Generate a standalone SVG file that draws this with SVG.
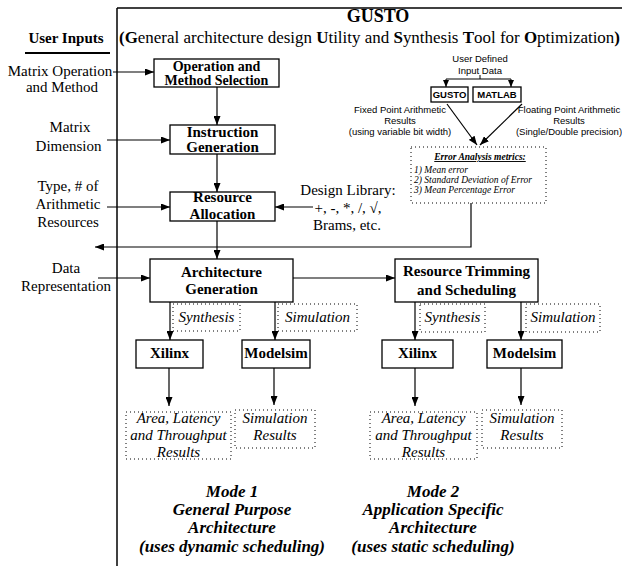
<svg xmlns="http://www.w3.org/2000/svg" width="622" height="566" viewBox="0 0 622 566">
<defs>
<marker id="ah" markerUnits="userSpaceOnUse" markerWidth="9" markerHeight="7" refX="9" refY="3.5" orient="auto">
<path d="M0,0 L9,3.5 L0,7 z" fill="#000"/>
</marker>
<marker id="ahs" markerUnits="userSpaceOnUse" markerWidth="7" markerHeight="6" refX="7" refY="3" orient="auto">
<path d="M0,0 L7,3 L0,6 z" fill="#000"/>
</marker>
<style>
.t{font-family:"Liberation Serif","Times New Roman",serif;fill:#000}
.lbl{font-size:15px;text-anchor:middle}
.b{font-weight:bold}
.i{font-style:italic}
.s{font-family:"Liberation Sans",Arial,sans-serif;fill:#000;font-size:9.5px;text-anchor:middle}
.box{fill:#fff;stroke:#000;stroke-width:1.3}
.dot{fill:none;stroke:#000;stroke-width:1;stroke-dasharray:1 3}
.c{fill:none;stroke:#000;stroke-width:1.2}
</style>
</defs>
<rect width="622" height="566" fill="#fff"/>

<g id="frame">
<line x1="117" y1="8" x2="622" y2="8" stroke="#000" stroke-width="1.5"/>
<line x1="117" y1="8" x2="117" y2="566" stroke="#000" stroke-width="1.5"/>
<text class="t b" x="378" y="22" font-size="18" text-anchor="middle">GUSTO</text>
<text class="t" x="119" y="43" font-size="17" textLength="501" lengthAdjust="spacingAndGlyphs"><tspan class="b">(G</tspan>eneral architecture design <tspan class="b">U</tspan>tility and <tspan class="b">S</tspan>ynthesis <tspan class="b">T</tspan>ool for <tspan class="b">O</tspan>ptimization<tspan class="b">)</tspan></text>
</g>

<g id="user-inputs">
<text class="t b" x="66" y="43" font-size="15" text-anchor="middle">User Inputs</text>
<line x1="25" y1="53" x2="110" y2="53" stroke="#000" stroke-width="2"/>
</g>
<g id="in-matrix-op"><text class="t lbl" x="60" y="76">Matrix Operation</text><text class="t lbl" x="62" y="92">and Method</text></g>
<g id="in-matrix-dim"><text class="t lbl" x="70" y="132">Matrix</text><text class="t lbl" x="68.5" y="151">Dimension</text></g>
<g id="in-type"><text class="t lbl" x="68" y="191">Type, # of</text><text class="t lbl" x="68" y="209">Arithmetic</text><text class="t lbl" x="68" y="227">Resources</text></g>
<g id="in-data"><text class="t lbl" x="66" y="273">Data</text><text class="t lbl" x="66" y="291">Representation</text></g>

<g id="n-opsel"><rect class="box" x="154" y="59" width="125" height="28"/><text class="t b" font-size="14" text-anchor="middle" x="216.5" y="71">Operation and</text><text class="t b" font-size="14" text-anchor="middle" x="216.5" y="85">Method Selection</text></g>
<g id="n-instr"><rect class="box" x="170" y="125" width="105" height="29"/><text class="t lbl b" x="222.5" y="137">Instruction</text><text class="t lbl b" x="222.5" y="152">Generation</text></g>
<g id="n-alloc"><rect class="box" x="170" y="192" width="105" height="29"/><text class="t lbl b" x="222.5" y="202">Resource</text><text class="t lbl b" x="222.5" y="219">Allocation</text></g>
<g id="n-designlib"><text class="t lbl" x="348" y="195">Design Library:</text><text class="t lbl" x="348" y="213">+, -, *, /, √,</text><text class="t lbl" x="347" y="230">Brams, etc.</text></g>

<g id="n-archgen"><rect class="box" x="150" y="259" width="143" height="43"/><text class="t lbl b" x="221.5" y="277">Architecture</text><text class="t lbl b" x="221.5" y="294">Generation</text></g>
<g id="n-trim"><rect class="box" x="395" y="259" width="143" height="43"/><text class="t lbl b" x="466.5" y="276">Resource Trimming</text><text class="t lbl b" x="466.5" y="295">and Scheduling</text></g>

<g id="n-synth1"><rect class="dot" x="173" y="304" width="67" height="27"/><text class="t lbl i" x="206.5" y="322">Synthesis</text></g>
<g id="n-sim1"><rect class="dot" x="278" y="304" width="79" height="27"/><text class="t lbl i" x="317.5" y="322">Simulation</text></g>
<g id="n-synth2"><rect class="dot" x="420" y="304" width="65" height="28"/><text class="t lbl i" x="452.5" y="322">Synthesis</text></g>
<g id="n-sim2"><rect class="dot" x="526" y="304" width="74" height="28"/><text class="t lbl i" x="563" y="322">Simulation</text></g>

<g id="n-xilinx1"><rect class="box" x="136" y="340" width="67" height="28"/><text class="t lbl b" x="169.5" y="358">Xilinx</text></g>
<g id="n-modelsim1"><rect class="box" x="242" y="340" width="68" height="28"/><text class="t lbl b" x="276" y="358">Modelsim</text></g>
<g id="n-xilinx2"><rect class="box" x="382" y="340" width="71" height="28"/><text class="t lbl b" x="417.5" y="358">Xilinx</text></g>
<g id="n-modelsim2"><rect class="box" x="487" y="340" width="75" height="28"/><text class="t lbl b" x="524.5" y="358">Modelsim</text></g>

<g id="n-area1"><rect class="dot" x="126" y="412" width="105" height="47"/><text class="t lbl i" x="178.5" y="423">Area, Latency</text><text class="t lbl i" x="178.5" y="440">and Throughput</text><text class="t lbl i" x="178.5" y="457">Results</text></g>
<g id="n-simres1"><rect class="dot" x="235" y="410" width="80" height="38"/><text class="t lbl i" x="275" y="423">Simulation</text><text class="t lbl i" x="275" y="440">Results</text></g>
<g id="n-area2"><rect class="dot" x="370" y="412" width="107" height="47"/><text class="t lbl i" x="423.5" y="423">Area, Latency</text><text class="t lbl i" x="423.5" y="440">and Throughput</text><text class="t lbl i" x="423.5" y="457">Results</text></g>
<g id="n-simres2"><rect class="dot" x="482" y="410" width="80" height="38"/><text class="t lbl i" x="522" y="423">Simulation</text><text class="t lbl i" x="522" y="440">Results</text></g>

<g id="n-mode1"><text class="t b i" font-size="17" text-anchor="middle" x="232" y="497">Mode 1</text><text class="t b i" font-size="17" text-anchor="middle" x="232" y="515">General Purpose</text><text class="t b i" font-size="17" text-anchor="middle" x="232" y="533">Architecture</text><text class="t b i" font-size="17" text-anchor="middle" x="232" y="552">(uses dynamic scheduling)</text></g>
<g id="n-mode2"><text class="t b i" font-size="17" text-anchor="middle" x="433" y="497">Mode 2</text><text class="t b i" font-size="17" text-anchor="middle" x="433" y="515">Application Specific</text><text class="t b i" font-size="17" text-anchor="middle" x="433" y="533">Architecture</text><text class="t b i" font-size="17" text-anchor="middle" x="433" y="552">(uses static scheduling)</text></g>

<g id="n-userdata"><text class="s" x="480" y="62">User Defined</text><text class="s" x="480" y="74">Input Data</text></g>
<g id="n-gusto"><rect class="box" x="431" y="87" width="37" height="15" stroke-width="1"/><text class="s b" x="449.5" y="98" font-size="9">GUSTO</text></g>
<g id="n-matlab"><rect class="box" x="473" y="87" width="48" height="15" stroke-width="1"/><text class="s b" x="497" y="98" font-size="9">MATLAB</text></g>
<g id="n-fixed"><text class="s" x="400" y="113">Fixed Point Arithmetic</text><text class="s" x="400" y="124">Results</text><text class="s" x="400" y="135">(using variable bit width)</text></g>
<g id="n-float"><text class="s" x="569" y="113" font-size="8">Floating Point Arithmetic</text><text class="s" x="569" y="124">Results</text><text class="s" x="569" y="135" font-size="8">(Single/Double precision)</text></g>
<g id="n-error"><rect class="dot" x="411" y="147" width="135" height="56"/>
<text class="t b i" x="480" y="160" font-size="9.5" text-anchor="middle" text-decoration="underline">Error Analysis metrics:</text>
<text class="t i" x="414" y="173" font-size="9.5">1) Mean error</text>
<text class="t i" x="414" y="183" font-size="9.5">2) Standard Deviation of Error</text>
<text class="t i" x="414" y="193" font-size="9.5">3) Mean Percentage Error</text></g>

<g id="connectors">
<line class="c" x1="113" y1="72" x2="154" y2="72" marker-end="url(#ah)"/>
<line class="c" x1="217" y1="87" x2="217" y2="125" marker-end="url(#ah)"/>
<line class="c" x1="107" y1="140" x2="170" y2="140" marker-end="url(#ah)"/>
<line class="c" x1="217" y1="154" x2="217" y2="192" marker-end="url(#ah)"/>
<line class="c" x1="107" y1="207" x2="170" y2="207" marker-end="url(#ah)"/>
<line class="c" x1="313" y1="207" x2="275" y2="207" marker-end="url(#ah)"/>
<line class="c" x1="217" y1="221" x2="217" y2="259" marker-end="url(#ah)"/>
<polyline class="c" points="471,203 471,247 95,247" marker-end="url(#ah)"/>
<line class="c" x1="98" y1="278" x2="150" y2="278" marker-end="url(#ah)"/>
<line class="c" x1="293" y1="278" x2="395" y2="278" marker-end="url(#ah)"/>
<line class="c" x1="170" y1="302" x2="170" y2="340" marker-end="url(#ah)"/>
<line class="c" x1="275" y1="302" x2="275" y2="340" marker-end="url(#ah)"/>
<line class="c" x1="415" y1="302" x2="415" y2="340" marker-end="url(#ah)"/>
<line class="c" x1="521" y1="302" x2="521" y2="340" marker-end="url(#ah)"/>
<line class="c" x1="169" y1="368" x2="169" y2="406" marker-end="url(#ah)"/>
<line class="c" x1="274" y1="368" x2="274" y2="405" marker-end="url(#ah)"/>
<line class="c" x1="415" y1="368" x2="415" y2="406" marker-end="url(#ah)"/>
<line class="c" x1="521" y1="368" x2="521" y2="405" marker-end="url(#ah)"/>
<line x1="480" y1="75" x2="480" y2="79" stroke="#000" stroke-width="1"/>
<polyline points="480,79 446,79 446,87" fill="none" stroke="#000" stroke-width="1" marker-end="url(#ahs)"/>
<polyline points="480,79 511,79 511,87" fill="none" stroke="#000" stroke-width="1" marker-end="url(#ahs)"/>
<line class="c" x1="447" y1="104" x2="477" y2="145" marker-end="url(#ah)"/>
<line class="c" x1="522" y1="104" x2="480" y2="145" marker-end="url(#ah)"/>
</g>
</svg>
